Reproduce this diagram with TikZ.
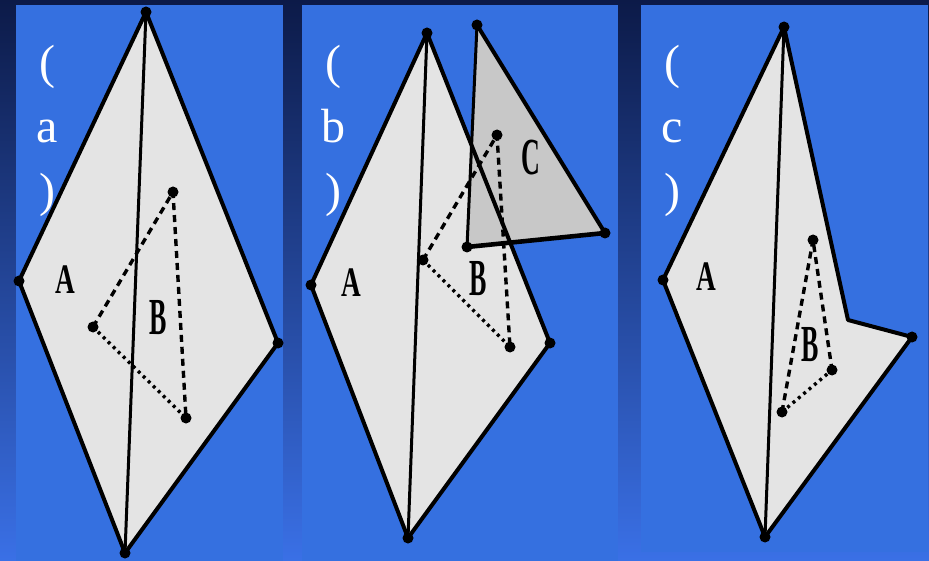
\documentclass[tikz,border=0pt]{standalone}
\usepackage{fontspec}
\setmainfont{Liberation Serif}

\definecolor{bgtop}{RGB}{12,26,72}
\definecolor{bgbot}{RGB}{58,112,230}
\definecolor{panel}{RGB}{53,112,224}
\definecolor{sheet}{RGB}{228,228,228}
\definecolor{sheetC}{RGB}{200,200,200}

\begin{document}
\begin{tikzpicture}[x=1pt, y=-1pt, line join=round,
  edge/.style={line width=4pt},
  spine/.style={line width=3pt},
  dashedge/.style={line width=3.4pt, dash pattern=on 7pt off 5pt},
  dotedge/.style={line width=3.4pt, dash pattern=on 3pt off 4pt},
  lab/.style={font=\fontsize{52}{52}\selectfont\bfseries, xscale=0.5, inner sep=0pt},
  tag/.style={white, font=\fontsize{48}{64}\selectfont, align=center, anchor=base, inner sep=0pt}]
  \useasboundingbox (0,0) rectangle (929,561);

  % fond et trois panneaux
  \shade[top color=bgtop, bottom color=bgbot] (0,0) rectangle (929,561);
  \fill[panel] (16,5) rectangle (283,561);
  \fill[panel] (302,5) rectangle (618,561);
  \fill[panel] (641,5) rectangle (928,552);

  % ---- (a)
  \coordinate (aT) at (146,12);
  \coordinate (aL) at (19,281);
  \coordinate (aR) at (278,343);
  \coordinate (aD) at (125,553);
  \coordinate (aP) at (173,192);
  \coordinate (aQ) at (93,327);
  \coordinate (aS) at (186,418);

  \fill[sheet] (aT) -- (aR) -- (aD) -- (aL) -- cycle;
  \draw[edge] (aT) -- (aR) -- (aD) -- (aL) -- cycle;
  \draw[spine] (aT) -- (aD);
  \draw[dashedge] (aQ) -- (aP) -- (aS);
  \draw[dotedge] (aQ) -- (aS);
  \foreach \v in {aT,aL,aR,aD,aP,aQ,aS}
    \fill (\v) circle (5.5);

  \node[tag] (tagA) at (47,207) {(\\a\\)};
  \node[lab, font=\fontsize{42}{42}\selectfont\bfseries, xscale=1.3] (aA) at (65,280) {A};
  \node[lab] (aB) at (158,318) {B};

  % ---- (b)
  \coordinate (bT) at (427,33);
  \coordinate (bL) at (311,285);
  \coordinate (bR) at (550,343);
  \coordinate (bD) at (408,538);
  \coordinate (bCt) at (477,25);
  \coordinate (bCr) at (605,233);
  \coordinate (bCl) at (467,247);
  \coordinate (bP) at (497,135);
  \coordinate (bQ) at (423,260);
  \coordinate (bS) at (510,347);

  \fill[sheet] (bT) -- (bR) -- (bD) -- (bL) -- cycle;
  \fill[sheetC] (bCt) -- (bCr) -- (bCl) -- cycle;
  \draw[edge] (bT) -- (bR) -- (bD) -- (bL) -- cycle;
  \draw[spine] (bT) -- (bD);
  \draw[edge] (bCt) -- (bCr);
  \draw[line width=4.6pt] (bCr) -- (bCl);
  \draw[spine] (bCl) -- (bCt);
  \draw[dashedge] (bQ) -- (bP) -- (bS);
  \draw[dotedge] (bQ) -- (bS);
  \foreach \v in {bT,bL,bR,bD,bCt,bCr,bCl,bP,bQ,bS}
    \fill (\v) circle (5.5);

  \node[tag] (tagB) at (333,207) {(\\b\\)};
  \node[lab, font=\fontsize{42}{42}\selectfont\bfseries, xscale=1.3] (bA) at (351,283) {A};
  \node[lab] (bB) at (478,279) {B};
  \node[lab] (bC) at (531,158) {C};

  % ---- (c)
  \coordinate (cT) at (784,27);
  \coordinate (cL) at (663,280);
  \coordinate (cN) at (848,320);
  \coordinate (cR) at (912,337);
  \coordinate (cD) at (765,537);
  \coordinate (cP) at (813,240);
  \coordinate (cQ) at (782,412);
  \coordinate (cS) at (832,370);

  \fill[sheet] (cT) -- (cN) -- (cR) -- (cD) -- (cL) -- cycle;
  \draw[edge] (cT) -- (cN) -- (cR) -- (cD) -- (cL) -- cycle;
  \draw[spine] (cT) -- (cD);
  \draw[dashedge] (cQ) -- (cP) -- (cS);
  \draw[dotedge] (cQ) -- (cS);
  \foreach \v in {cT,cL,cR,cD,cP,cQ,cS}
    \fill (\v) circle (5.5);

  \node[tag] (tagC) at (672,207) {(\\c\\)};
  \node[lab, font=\fontsize{42}{42}\selectfont\bfseries, xscale=1.3] (cA) at (706,277) {A};
  \node[lab] (cB) at (810,345) {B};
\end{tikzpicture}
\end{document}
